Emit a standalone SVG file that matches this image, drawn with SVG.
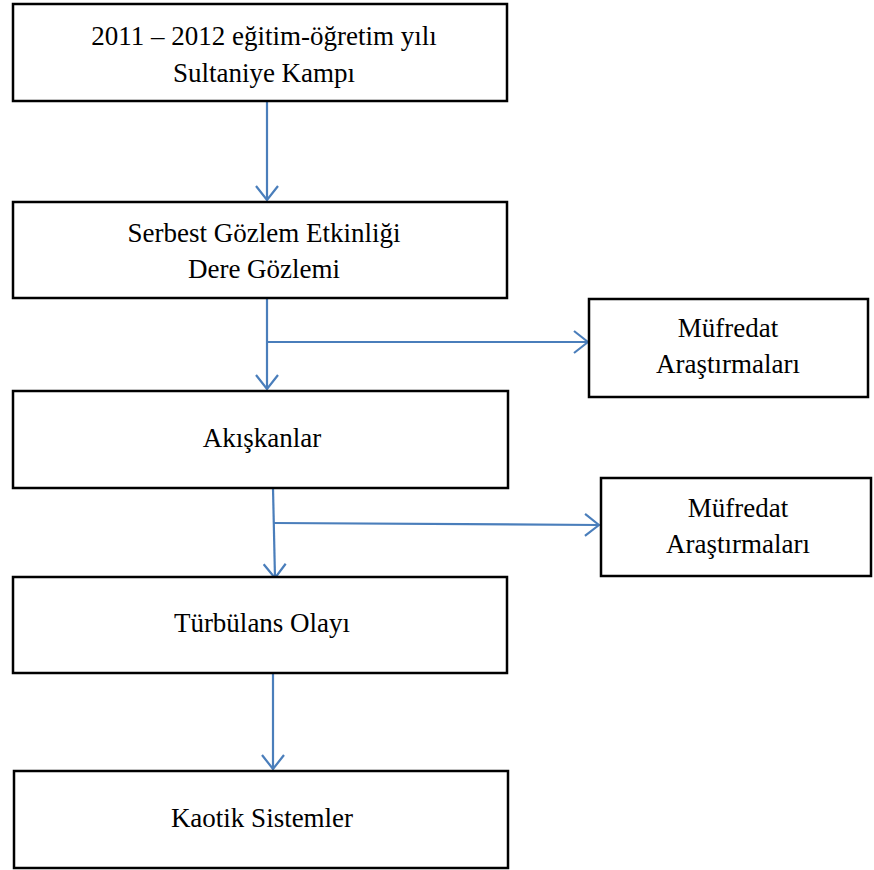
<svg xmlns="http://www.w3.org/2000/svg" width="874" height="870" viewBox="0 0 874 870">
  <defs>
    <style>
      .box { fill: #ffffff; stroke: #000000; stroke-width: 2.5; }
      .label { font-family: "Liberation Serif", "Times New Roman", serif; font-size: 27px; fill: #000000; text-anchor: middle; }
      .link { fill: none; stroke: #4A7EBB; stroke-width: 2.2; }
    </style>
    <marker id="arrow" viewBox="0 0 16 24" refX="15" refY="12" markerWidth="16" markerHeight="24" markerUnits="userSpaceOnUse" orient="auto">
      <path d="M1,1 L15,12 L1,23" fill="none" stroke="#4A7EBB" stroke-width="2.2"/>
    </marker>
  </defs>

  <rect width="874" height="870" fill="#ffffff"/>

  <g id="connectors">
    <line class="link" x1="267" y1="101" x2="267" y2="200" marker-end="url(#arrow)"/>
    <line class="link" x1="267" y1="298" x2="267" y2="389" marker-end="url(#arrow)"/>
    <line class="link" x1="267" y1="342" x2="588" y2="342" marker-end="url(#arrow)"/>
    <line class="link" x1="273" y1="488" x2="275" y2="578" marker-end="url(#arrow)"/>
    <line class="link" x1="274" y1="523" x2="599" y2="525" marker-end="url(#arrow)"/>
    <line class="link" x1="273" y1="673" x2="273" y2="769" marker-end="url(#arrow)"/>
  </g>

  <g id="camp">
    <rect class="box" x="13" y="4" width="494" height="97"/>
    <text class="label" x="264" y="45">2011 – 2012 eğitim-öğretim yılı</text>
    <text class="label" x="264" y="82">Sultaniye Kampı</text>
  </g>

  <g id="observation">
    <rect class="box" x="13" y="202" width="494" height="96"/>
    <text class="label" x="264" y="242">Serbest Gözlem Etkinliği</text>
    <text class="label" x="264" y="278">Dere Gözlemi</text>
  </g>

  <g id="curriculum-1">
    <rect class="box" x="589" y="299" width="279" height="98"/>
    <text class="label" x="728" y="337">Müfredat</text>
    <text class="label" x="728" y="373">Araştırmaları</text>
  </g>

  <g id="fluids">
    <rect class="box" x="13" y="391" width="495" height="97"/>
    <text class="label" x="262" y="447">Akışkanlar</text>
  </g>

  <g id="curriculum-2">
    <rect class="box" x="601" y="478" width="270" height="98"/>
    <text class="label" x="738" y="517">Müfredat</text>
    <text class="label" x="738" y="553">Araştırmaları</text>
  </g>

  <g id="turbulence">
    <rect class="box" x="13" y="577" width="494" height="96"/>
    <text class="label" x="262" y="632">Türbülans Olayı</text>
  </g>

  <g id="chaos">
    <rect class="box" x="14" y="771" width="494" height="97"/>
    <text class="label" x="262" y="827">Kaotik Sistemler</text>
  </g>
</svg>
